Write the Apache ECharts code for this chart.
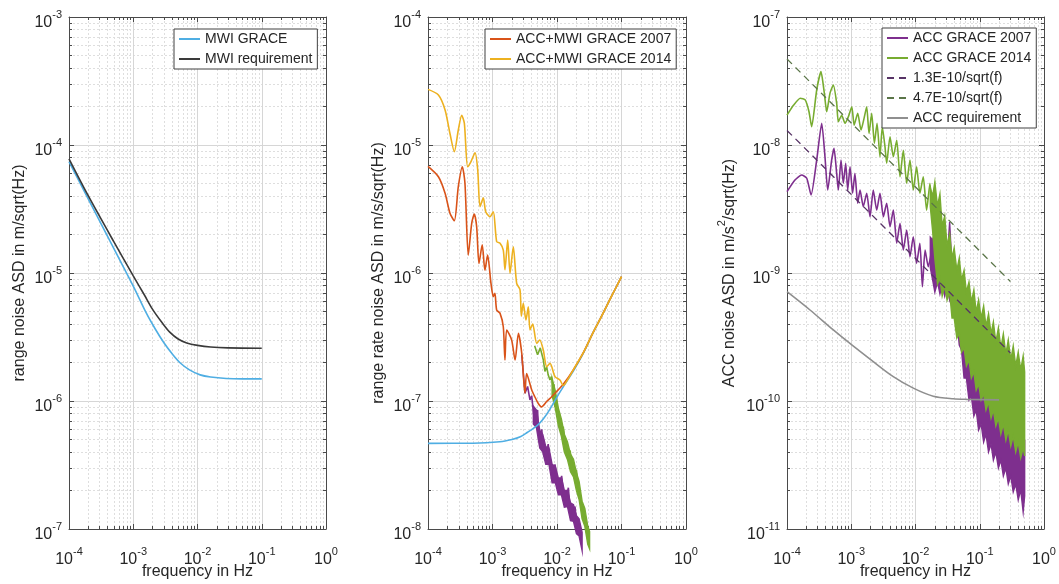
<!DOCTYPE html>
<html>
<head>
<meta charset="utf-8">
<script src="https://cdn.jsdelivr.net/npm/echarts@6/dist/echarts.min.js"></script>
<style>
  html, body { margin: 0; padding: 0; background: #fff; }
  #chart { width: 1059px; height: 584px; }
</style>
</head>
<body>
<div id="chart"></div>
<script>
// ---------- panel 1: range noise [f (Hz), ASD (m/sqrt(Hz))] ----------
const mwiGraceRange = [
  [1e-4, 7.4e-5], [2e-4, 3.78e-5], [5e-4, 1.55e-5], [1e-3, 7.9e-6], [1.6e-3, 4.85e-6],
  [2.2e-3, 3.65e-6], [3e-3, 2.85e-6], [4e-3, 2.35e-6], [5.4e-3, 1.98e-6], [7.5e-3, 1.75e-6],
  [1.1e-2, 1.6e-6], [1.6e-2, 1.54e-6], [2.8e-2, 1.5e-6], [5e-2, 1.49e-6], [0.1, 1.49e-6]
];
const mwiRequirement = [
  [1e-4, 7.8e-5], [2e-4, 4.0e-5], [5e-4, 1.75e-5], [1e-3, 9.5e-6], [1.5e-3, 6.7e-6],
  [2e-3, 5.2e-6], [2.8e-3, 4.1e-6], [3.7e-3, 3.45e-6], [5e-3, 3.05e-6], [6.8e-3, 2.84e-6],
  [1e-2, 2.72e-6], [1.6e-2, 2.64e-6], [3e-2, 2.6e-6], [0.1, 2.58e-6]
];

// ---------- panel 2: range rate noise [f (Hz), ASD (m/s/sqrt(Hz))] ----------
const mwiGraceRate = [
  [1e-4, 4.67e-8], [5e-4, 4.68e-8], [1.3e-3, 4.8e-8], [2e-3, 5.0e-8], [2.7e-3, 5.25e-8],
  [3.5e-3, 5.7e-8], [4.3e-3, 6.1e-8], [5.2e-3, 6.6e-8], [6.2e-3, 7.3e-8], [7.4e-3, 8.3e-8],
  [8.8e-3, 9.6e-8], [1.05e-2, 1.12e-7], [1.25e-2, 1.29e-7], [1.8e-2, 1.72e-7], [2.6e-2, 2.4e-7],
  [3.5e-2, 3.3e-7], [4.7e-2, 4.4e-7], [6.5e-2, 6.1e-7], [8e-2, 7.5e-7], [0.1, 9.35e-7]
];
const accMwi2007 = [
  [1e-4, 6.8e-6], [1.45e-4, 5.65e-6], [1.84e-4, 4.2e-6], [2.19e-4, 2.93e-6], [2.56e-4, 2.56e-6],
  [2.95e-4, 4.72e-6], [3.4e-4, 6.76e-6], [3.74e-4, 5.02e-6], [4.21e-4, 1.38e-6], [4.76e-4, 2.44e-6],
  [5.22e-4, 2.89e-6], [5.68e-4, 2.3e-6], [6.17e-4, 1.19e-6], [6.93e-4, 1.66e-6], [7.63e-4, 1.05e-6],
  [8.4e-4, 1.38e-6], [9.47e-4, 8.3e-7], [1.03e-3, 6.53e-7], [1.09e-3, 6.94e-7], [1.16e-3, 5.14e-7],
  [1.31e-3, 4.84e-7], [1.47e-3, 3.8e-7], [1.56e-3, 2.09e-7], [1.66e-3, 3.59e-7], [1.98e-3, 3.0e-7],
  [2.24e-3, 2.09e-7], [2.52e-3, 3.38e-7], [2.84e-3, 2.36e-7], [3.19e-3, 1.15e-7], [3.38e-3, 1.64e-7],
  [4.06e-3, 1.22e-7], [4.53e-3, 1.08e-7], [5.1e-3, 9.6e-8], [5.75e-3, 9.0e-8], [6.9e-3, 9.9e-8],
  [8.26e-3, 1.08e-7], [9.8e-3, 1.18e-7], [1.25e-2, 1.35e-7], [1.8e-2, 1.76e-7], [2.6e-2, 2.42e-7],
  [3.5e-2, 3.3e-7], [4.7e-2, 4.4e-7], [6.5e-2, 6.1e-7], [8e-2, 7.5e-7], [0.1, 9.35e-7]
];
const accMwi2014 = [
  [1e-4, 2.72e-5], [1.45e-4, 2.46e-5], [1.84e-4, 1.88e-5], [2.19e-4, 1.23e-5], [2.56e-4, 8.87e-6],
  [2.95e-4, 1.31e-5], [3.33e-4, 1.71e-5], [3.66e-4, 1.48e-5], [4.12e-4, 6.76e-6], [4.64e-4, 7.41e-6],
  [5.36e-4, 8.7e-6], [5.9e-4, 6.38e-6], [6.4e-4, 3.3e-6], [7.2e-4, 3.86e-6], [7.85e-4, 3.01e-6],
  [9.15e-4, 2.75e-6], [1.03e-3, 3.01e-6], [1.16e-3, 1.76e-6], [1.31e-3, 1.71e-6], [1.47e-3, 1.51e-6],
  [1.56e-3, 1.06e-6], [1.72e-3, 1.81e-6], [1.87e-3, 9.95e-7], [2.1e-3, 1.6e-6], [2.37e-3, 8.3e-7],
  [2.67e-3, 7.4e-7], [2.8e-3, 4.6e-7], [3.0e-3, 5.8e-7], [3.3e-3, 4.3e-7], [3.59e-3, 5.45e-7],
  [3.81e-3, 3.59e-7], [4.2e-3, 4.0e-7], [4.84e-3, 2.82e-7], [5.4e-3, 3.0e-7], [6.13e-3, 2.5e-7],
  [6.92e-3, 1.85e-7], [7.79e-3, 1.97e-7], [9.3e-3, 1.55e-7], [1.11e-2, 1.46e-7], [1.25e-2, 1.32e-7],
  [1.5e-2, 1.5e-7], [1.8e-2, 1.76e-7], [2.6e-2, 2.42e-7], [3.5e-2, 3.3e-7], [4.7e-2, 4.4e-7],
  [6.5e-2, 6.1e-7], [8e-2, 7.5e-7], [0.1, 9.35e-7]
];
const accRate2007 = [
  [2.84e-3, 2.3e-7], [3.19e-3, 1.15e-7], [3.5e-3, 1.3e-7], [3.81e-3, 1.02e-7], [4.05e-3, 1.1e-7],
  [4.3e-3, 8.25e-8], [4.55e-3, 6.5e-8], [4.84e-3, 7.1e-8], [5.0e-3, 8.5e-8], [5.13e-3, 6.3e-8],
  [5.3e-3, 5.0e-8], [5.45e-3, 5.26e-8], [5.8e-3, 6.0e-8], [6.13e-3, 4.4e-8], [6.5e-3, 3.6e-8],
  [6.92e-3, 3.9e-8], [7.3e-3, 4.6e-8], [7.79e-3, 3.46e-8], [8.2e-3, 2.9e-8], [8.77e-3, 2.72e-8],
  [9.3e-3, 3.2e-8], [9.88e-3, 2.56e-8], [1.05e-2, 2.0e-8], [1.11e-2, 2.14e-8], [1.18e-2, 2.6e-8],
  [1.25e-2, 2.02e-8], [1.33e-2, 1.6e-8], [1.41e-2, 1.79e-8], [1.5e-2, 2.1e-8], [1.59e-2, 1.49e-8],
  [1.69e-2, 1.2e-8], [1.79e-2, 1.32e-8], [1.9e-2, 1.5e-8], [2.0e-2, 1.15e-8], [2.14e-2, 1.04e-8],
  [2.25e-2, 9.5e-9], [2.35e-2, 9.0e-9]
];
const accRate2014 = [
  [4.5e-3, 2.7e-7], [5.0e-3, 2.3e-7], [5.5e-3, 2.6e-7], [6.13e-3, 2.1e-7], [6.5e-3, 1.7e-7],
  [6.92e-3, 1.85e-7], [7.3e-3, 1.6e-7], [7.79e-3, 1.46e-7], [8.2e-3, 1.55e-7], [8.77e-3, 1.22e-7],
  [9.0e-3, 1.35e-7], [9.3e-3, 9.0e-8], [9.9e-3, 1.0e-7], [1.05e-2, 7.1e-8], [1.1e-2, 7.8e-8],
  [1.18e-2, 5.6e-8], [1.25e-2, 6.3e-8], [1.33e-2, 4.68e-8], [1.4e-2, 4.2e-8], [1.5e-2, 3.67e-8],
  [1.6e-2, 4.1e-8], [1.69e-2, 3.07e-8], [1.8e-2, 2.8e-8], [1.9e-2, 2.56e-8], [2.0e-2, 2.9e-8],
  [2.14e-2, 2.14e-8], [2.2e-2, 1.9e-8], [2.27e-2, 1.69e-8], [2.4e-2, 1.5e-8], [2.56e-2, 1.33e-8],
  [2.7e-2, 1.15e-8], [2.82e-2, 1.04e-8], [3.03e-2, 8.8e-9]
];
// noisy spread of the converted accelerometer spectra: upper / lower envelope
const rateBandFreq2007 = [
  4.3e-3, 4.8e-3, 5.4e-3, 6e-3, 6.7e-3, 7.5e-3, 8.4e-3, 9.4e-3, 1.05e-2,
  1.17e-2, 1.3e-2, 1.45e-2, 1.62e-2, 1.8e-2, 2.0e-2, 2.2e-2, 2.45e-2
];
const rate2007Upper = [
  9.1e-8, 8.5e-8, 5.9e-8, 5.5e-8, 4.4e-8, 4.3e-8, 3.2e-8, 3.1e-8, 2.5e-8,
  2.5e-8, 2.0e-8, 2.0e-8, 1.6e-8, 1.55e-8, 1.27e-8, 1.2e-8, 9.4e-9
];
const rate2007Lower = [
  6.6e-8, 6.2e-8, 4.3e-8, 4.0e-8, 3.2e-8, 3.2e-8, 2.3e-8, 2.3e-8, 1.85e-8,
  1.85e-8, 1.48e-8, 1.5e-8, 1.16e-8, 1.15e-8, 9.2e-9, 8.8e-9, 6.8e-9
];
const rateBandFreq2014 = [
  8.4e-3, 9.4e-3, 1.05e-2, 1.17e-2, 1.3e-2, 1.45e-2, 1.62e-2,
  1.8e-2, 2.0e-2, 2.2e-2, 2.45e-2, 2.7e-2, 3.0e-2, 3.2e-2
];
const rate2014Upper = [
  1.5e-7, 1.2e-7, 8.8e-8, 7.2e-8, 5.5e-8, 4.8e-8, 3.85e-8,
  3.5e-8, 2.75e-8, 2.35e-8, 1.65e-8, 1.45e-8, 1.05e-8, 9.6e-9
];
const rate2014Lower = [
  1.1e-7, 8.8e-8, 6.4e-8, 5.3e-8, 4.0e-8, 3.5e-8, 2.8e-8,
  2.55e-8, 2.0e-8, 1.7e-8, 1.2e-8, 1.05e-8, 7.6e-9, 7.0e-9
];

// ---------- panel 3: accelerometer noise [f (Hz), ASD (m/s^2/sqrt(Hz))] ----------
const acc2007 = [
  [1e-4, 4.32e-9], [1.33e-4, 5.33e-9], [1.69e-4, 5.83e-9], [2.03e-4, 5.5e-9], [2.37e-4, 4.07e-9],
  [2.9e-4, 7.64e-9], [3.47e-4, 1.48e-8], [3.9e-4, 8.1e-9], [4.3e-4, 4.45e-9], [4.96e-4, 7.64e-9],
  [5.39e-4, 9.42e-9], [5.93e-4, 6.0e-9], [6.29e-4, 4.45e-9], [6.93e-4, 7.64e-9], [7.52e-4, 5.02e-9],
  [8.2e-4, 7.2e-9], [8.8e-4, 4.45e-9], [9.57e-4, 6.77e-9], [1.05e-3, 4.2e-9], [1.14e-3, 6.0e-9],
  [1.26e-3, 3.51e-9], [1.37e-3, 4.45e-9], [1.54e-3, 3.3e-9], [1.74e-3, 4.2e-9], [1.96e-3, 2.75e-9],
  [2.2e-3, 4.45e-9], [2.49e-3, 3.1e-9], [2.8e-3, 4.2e-9], [3.16e-3, 2.75e-9], [3.56e-3, 3.51e-9],
  [4.01e-3, 2.3e-9], [4.52e-3, 3.1e-9], [5.1e-3, 1.71e-9], [5.74e-3, 2.44e-9], [6.46e-3, 1.51e-9],
  [7.29e-3, 2.17e-9], [8.2e-3, 1.34e-9], [9.24e-3, 1.92e-9], [1.04e-2, 1.19e-9], [1.17e-2, 1.71e-9],
  [1.28e-2, 7.8e-10], [1.41e-2, 1.51e-9], [1.58e-2, 1.12e-9], [1.79e-2, 1.51e-9]
];
const acc2014 = [
  [1e-4, 1.71e-8], [1.27e-4, 2.05e-8], [1.61e-4, 2.32e-8], [1.92e-4, 2.25e-8], [2.2e-4, 1.82e-8],
  [2.42e-4, 1.39e-8], [2.9e-4, 2.69e-8], [3.38e-4, 3.74e-8], [3.81e-4, 2.54e-8], [4.15e-4, 1.82e-8],
  [4.67e-4, 2.54e-8], [5.26e-4, 2.94e-8], [5.93e-4, 2.12e-8], [6.29e-4, 1.52e-8], [7.1e-4, 1.71e-8],
  [8.0e-4, 1.48e-8], [9.0e-4, 1.66e-8], [1.02e-3, 1.99e-8], [1.11e-3, 1.43e-8], [1.26e-3, 1.77e-8],
  [1.42e-3, 1.31e-8], [1.6e-3, 1.66e-8], [1.74e-3, 1.99e-8], [1.89e-3, 1.23e-8], [2.08e-3, 1.77e-8],
  [2.29e-3, 1.03e-8], [2.52e-3, 1.48e-8], [2.8e-3, 8.1e-9], [3.04e-3, 1.39e-8], [3.35e-3, 9.7e-9],
  [3.56e-3, 7.2e-9], [4.01e-3, 1.16e-8], [4.52e-3, 8.1e-9], [5.1e-3, 1.09e-8], [5.74e-3, 5.65e-9],
  [6.46e-3, 9.1e-9], [7.29e-3, 5.02e-9], [8.2e-3, 7.64e-9], [9.24e-3, 4.45e-9], [1.04e-2, 6.77e-9],
  [1.17e-2, 4.2e-9], [1.32e-2, 5.65e-9], [1.49e-2, 3.1e-9], [1.68e-2, 5.02e-9], [1.89e-2, 2.44e-9]
];
// dense high-frequency part of the accelerometer spectra: upper / lower envelope
const bandFreq = [
  0.017, 0.0185, 0.02, 0.022, 0.024, 0.026, 0.0285, 0.031, 0.034, 0.037,
  0.04, 0.044, 0.048, 0.052, 0.057, 0.062, 0.068, 0.074, 0.081, 0.088,
  0.096, 0.105, 0.115, 0.125, 0.137, 0.15, 0.163, 0.178, 0.195, 0.213,
  0.233, 0.255, 0.278, 0.304, 0.332, 0.363, 0.397, 0.434, 0.474, 0.5
];
const acc2014Upper = [
  4.6e-9, 4.0e-9, 5.14e-9, 3.34e-9, 4.14e-9, 2.33e-9, 2.79e-9, 1.63e-9, 2.02e-9, 1.31e-9,
  1.57e-9, 1.05e-9, 1.31e-9, 8.8e-10, 1.05e-9, 7.1e-10, 8.5e-10, 5.93e-10, 7.36e-10, 4.95e-10,
  6.15e-10, 4.45e-10, 5.52e-10, 3.85e-10, 4.79e-10, 3.34e-10, 4.14e-10, 2.89e-10, 3.72e-10, 2.6e-10,
  3.34e-10, 2.33e-10, 3.0e-10, 2.09e-10, 2.69e-10, 1.88e-10, 2.41e-10, 1.75e-10, 2.25e-10, 1.69e-10
];
const acc2014Lower = [
  3.3e-9, 2.1e-9, 1.3e-9, 8.2e-10, 9.14e-10, 6.61e-10, 7.91e-10, 6.15e-10, 7.11e-10, 4.45e-10,
  4.45e-10, 3.1e-10, 3.34e-10, 2.41e-10, 2.6e-10, 1.88e-10, 2.09e-10, 1.51e-10, 1.69e-10, 1.22e-10,
  1.36e-10, 1.02e-10, 1.14e-10, 8.51e-11, 9.82e-11, 7.36e-11, 8.51e-11, 6.38e-11, 7.36e-11, 5.52e-11,
  6.61e-11, 4.95e-11, 5.93e-11, 4.45e-11, 5.33e-11, 4.0e-11, 4.79e-11, 3.59e-11, 4.3e-11, 3.72e-11
];
const acc2007Upper = [
  1.9e-9, 1.81e-9, 2.09e-9, 1.57e-9, 1.81e-9, 1.31e-9, 1.51e-9, 1.22e-9, 2.5e-9, 1.09e-9,
  1.22e-9, 6.15e-10, 4.7e-10, 3.59e-10, 3.28e-10, 2.5e-10, 2.6e-10, 2.02e-10, 2.09e-10, 1.69e-10,
  1.69e-10, 1.36e-10, 1.41e-10, 1.17e-10, 1.17e-10, 1.02e-10, 1.05e-10, 8.82e-11, 9.14e-11, 7.91e-11,
  8.2e-11, 7.11e-11, 7.36e-11, 6.38e-11, 6.61e-11, 5.73e-11, 5.93e-11, 5.14e-11, 5.33e-11, 4.95e-11
];
const acc2007Lower = [
  1.1e-9, 8.8e-10, 7.11e-10, 8.51e-10, 6.86e-10, 8.2e-10, 6.61e-10, 7.91e-10, 6.15e-10, 7.11e-10,
  4.95e-10, 4.45e-10, 2.74e-10, 2.5e-10, 1.51e-10, 1.51e-10, 1.02e-10, 1.09e-10, 7.64e-11, 8.51e-11,
  5.93e-11, 6.61e-11, 4.79e-11, 5.52e-11, 4.0e-11, 4.61e-11, 3.46e-11, 4.0e-11, 3.0e-11, 3.46e-11,
  2.6e-11, 3.0e-11, 2.25e-11, 2.6e-11, 1.95e-11, 2.25e-11, 1.69e-11, 2.02e-11, 1.36e-11, 1.81e-11
];
const accRequirement = [
  [1e-4, 7.14e-10], [2.28e-4, 5.14e-10], [5.26e-4, 3.59e-10], [1.02e-3, 2.74e-10], [2.2e-3, 2.03e-10],
  [4.51e-3, 1.55e-10], [9.24e-3, 1.26e-10], [1.89e-2, 1.09e-10], [3.87e-2, 1.04e-10], [6.26e-2, 1.03e-10],
  [0.2, 1.02e-10]
];
// 1/sqrt(f) reference levels and the frequency span they are drawn over
const level2007 = 1.3e-10;
const level2014 = 4.7e-10;
const levelFreq = [1e-4, 0.3];

// ---------- styling ----------
const FONT = '"Liberation Sans", Arial, Helvetica, sans-serif';
const TEXT = '#262626';
const AXIS = '#4a4a4a';
const C = {
  blue: '#4FAEE3', dark: '#3a3a3a', red: '#D95319', yellow: '#EDB120',
  purple: '#7E2F8E', green: '#77AC30', gray: '#8f8f8f',
  purpleDash: '#573366', greenDash: '#5a7548'
};
const grids = [
  { left: 69, top: 17, width: 257, height: 512, outerBoundsMode: 'none' },
  { left: 428, top: 17, width: 258, height: 512, outerBoundsMode: 'none' },
  { left: 787, top: 17, width: 257, height: 512, outerBoundsMode: 'none' }
];
const yRanges = [[1e-7, 1e-3], [1e-8, 1e-4], [1e-11, 1e-7]];
const yNames = [
  'range noise ASD in m/sqrt(Hz)',
  'range rate noise ASD in m/s/sqrt(Hz)',
  '{n|ACC noise ASD in m/s}{p|2}{n|/sqrt(Hz)}'
];
const yNameGaps = [41, 41, 49];

const labelRich = {
  b: { fontSize: 16, fontFamily: FONT, color: TEXT, lineHeight: 22, verticalAlign: 'bottom' },
  s: { fontSize: 11, fontFamily: FONT, color: TEXT, verticalAlign: 'top' }
};
function powerLabel(v) {
  const e = Math.round(Math.log10(v));
  return '{b|10}{s|' + e + '}';
}

const lineCommon = { show: true, lineStyle: { color: AXIS, width: 1 } };
const tickCommon = { show: true, inside: true, length: 5, lineStyle: { color: AXIS } };
const minorCommon = { show: true, splitNumber: 9, length: 3, lineStyle: { color: AXIS } };

const xAxis = [], yAxis = [];
grids.forEach((g, gi) => {
  xAxis.push({
    type: 'log', logBase: 10, gridIndex: gi, position: 'bottom', min: 1e-4, max: 1, splitNumber: 4,
    name: 'frequency in Hz', nameLocation: 'middle', nameGap: 35, nameMoveOverlap: false,
    nameTextStyle: { fontSize: 16, fontFamily: FONT, color: TEXT },
    axisLine: lineCommon, axisTick: tickCommon, minorTick: minorCommon,
    axisLabel: { formatter: powerLabel, rich: labelRich, margin: 17 },
    splitLine: { show: true, lineStyle: { color: '#d6d6d6', width: 1 } },
    minorSplitLine: { show: true, lineStyle: { color: '#dedede', width: 1, type: [2, 2] } }
  });
  xAxis.push({
    type: 'log', logBase: 10, gridIndex: gi, position: 'top', min: 1e-4, max: 1, splitNumber: 4,
    axisLine: lineCommon, axisTick: tickCommon, minorTick: minorCommon,
    axisLabel: { show: false }, splitLine: { show: false }
  });
  yAxis.push({
    type: 'log', logBase: 10, gridIndex: gi, position: 'left', min: yRanges[gi][0], max: yRanges[gi][1], splitNumber: 4,
    name: yNames[gi], nameLocation: 'middle', nameGap: yNameGaps[gi], nameRotate: 90, nameMoveOverlap: false,
    nameTextStyle: {
      fontSize: 16, fontFamily: FONT, color: TEXT,
      rich: {
        n: { fontSize: 16, fontFamily: FONT, color: TEXT, lineHeight: 22, verticalAlign: 'bottom' },
        p: { fontSize: 11, fontFamily: FONT, color: TEXT, verticalAlign: 'top' }
      }
    },
    axisLine: lineCommon, axisTick: tickCommon, minorTick: minorCommon,
    axisLabel: { formatter: powerLabel, rich: labelRich, margin: 7, padding: [6, 0, 0, 0] },
    splitLine: { show: true, lineStyle: { color: '#d6d6d6', width: 1 } },
    minorSplitLine: { show: true, lineStyle: { color: '#dedede', width: 1, type: [2, 2] } }
  });
  yAxis.push({
    type: 'log', logBase: 10, gridIndex: gi, position: 'right', min: yRanges[gi][0], max: yRanges[gi][1], splitNumber: 4,
    axisLine: lineCommon, axisTick: tickCommon, minorTick: minorCommon,
    axisLabel: { show: false }, splitLine: { show: false }
  });
});

const series = [];
function addLine(name, data, color, gi, extra) {
  series.push(Object.assign({
    type: 'line', name: name, data: data, xAxisIndex: gi * 2, yAxisIndex: gi * 2,
    symbol: 'none', showSymbol: false, smooth: 0.25,
    lineStyle: { color: color, width: 1.6 }, itemStyle: { color: color },
    emphasis: { disabled: true }, z: 3
  }, extra || {}));
}
function addBand(name, freq, upper, lower, color, gi) {
  const top = freq.map((f, i) => [f, upper[i]]);
  const bottom = freq.map((f, i) => [f, lower[i]]).reverse();
  series.push({
    type: 'custom', name: name, xAxisIndex: gi * 2, yAxisIndex: gi * 2, silent: true, z: 3,
    data: [top[0]],
    renderItem: function (params, api) {
      const pts = top.concat(bottom).map(p => api.coord(p));
      return {
        type: 'polygon', shape: { points: pts },
        style: { fill: color, stroke: color, lineWidth: 1.4, lineJoin: 'miter' }
      };
    }
  });
}
function levelLine(level) {
  return levelFreq.map(f => [f, level / Math.sqrt(f)]);
}

// panel 1
addLine('MWI GRACE', mwiGraceRange, C.blue, 0, { smooth: 0.3 });
addLine('MWI requirement', mwiRequirement, C.dark, 0, { smooth: 0.3 });

// panel 2
addLine('ACC GRACE 2007 rate', accRate2007, C.purple, 1, { smooth: 0 });
addBand('ACC GRACE 2007 rate spread', rateBandFreq2007, rate2007Upper, rate2007Lower, C.purple, 1);
addLine('ACC GRACE 2014 rate', accRate2014, C.green, 1, { smooth: 0 });
addBand('ACC GRACE 2014 rate spread', rateBandFreq2014, rate2014Upper, rate2014Lower, C.green, 1);
addLine('MWI GRACE rate', mwiGraceRate, C.blue, 1, { smooth: 0.3 });
addLine('ACC+MWI GRACE 2007', accMwi2007, C.red, 1);
addLine('ACC+MWI GRACE 2014', accMwi2014, C.yellow, 1);

// panel 3
addLine('ACC GRACE 2007', acc2007, C.purple, 2, { smooth: 0.2 });
addBand('ACC GRACE 2007 dense', bandFreq, acc2007Upper, acc2007Lower, C.purple, 2);
addLine('ACC GRACE 2014', acc2014, C.green, 2, { smooth: 0.2 });
addBand('ACC GRACE 2014 dense', bandFreq, acc2014Upper, acc2014Lower, C.green, 2);
addLine('1.3E-10/sqrt(f)', levelLine(level2007), C.purpleDash, 2,
  { smooth: false, lineStyle: { color: C.purpleDash, width: 1.3, type: [7, 5] } });
addLine('4.7E-10/sqrt(f)', levelLine(level2014), C.greenDash, 2,
  { smooth: false, lineStyle: { color: C.greenDash, width: 1.3, type: [7, 5] } });
addLine('ACC requirement', accRequirement, C.gray, 2, { smooth: 0.3 });

const legendCommon = {
  orient: 'vertical', itemWidth: 21, itemHeight: 14, itemGap: 6,
  padding: [3, 5, 3, 4], borderColor: '#404040', borderWidth: 1, backgroundColor: '#fff',
  itemStyle: { opacity: 0, borderWidth: 0 },
  textStyle: { fontSize: 14, fontFamily: FONT, color: TEXT }, selectedMode: false, z: 10
};

const chart = echarts.init(document.getElementById('chart'), null, { renderer: 'canvas' });
chart.setOption({
  animation: false,
  backgroundColor: '#fff',
  textStyle: { fontFamily: FONT },
  grid: grids,
  xAxis: xAxis,
  yAxis: yAxis,
  legend: [
    Object.assign({ data: ['MWI GRACE', 'MWI requirement'], left: 174, top: 29 }, legendCommon),
    Object.assign({ data: ['ACC+MWI GRACE 2007', 'ACC+MWI GRACE 2014'], left: 485, top: 29 }, legendCommon),
    Object.assign({ data: ['ACC GRACE 2007', 'ACC GRACE 2014', '1.3E-10/sqrt(f)', '4.7E-10/sqrt(f)', 'ACC requirement'], left: 882, top: 28 }, legendCommon)
  ],
  series: series
});
</script>
</body>
</html>
